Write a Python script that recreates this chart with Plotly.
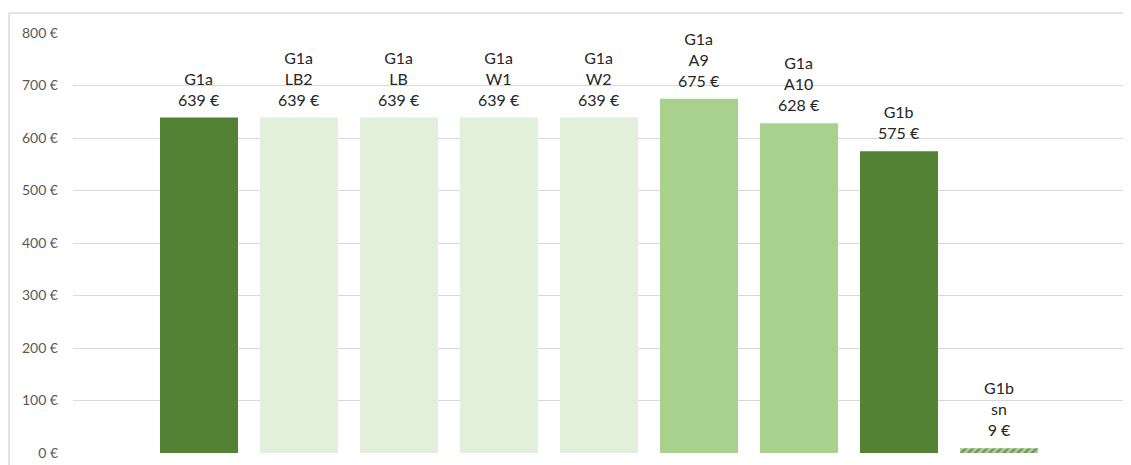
import plotly.graph_objects as go

categories = ["G1a", "G1a\nLB2", "G1a\nLB", "G1a\nW1", "G1a\nW2", "G1a\nA9", "G1a\nA10", "G1b", "G1b\nsn"]
values = [639, 639, 639, 639, 639, 675, 628, 575, 9]
colors = ["#548235", "#E2EFDA", "#E2EFDA", "#E2EFDA", "#E2EFDA", "#A9D18E", "#A9D18E", "#548235", "#A9D18E"]
patterns = ["", "", "", "", "", "", "", "", "/"]
y_ticks = [0, 100, 200, 300, 400, 500, 600, 700, 800]
y_tick_labels = [f"{v}\u00a0€" for v in y_ticks]

xpos = list(range(len(categories)))
labels = [c.replace("\n", "<br>") + f"<br>{v}\u00a0€" for c, v in zip(categories, values)]

# page body has an 8px margin; figure laid out accordingly
W, H = 1123, 457
L, R, T, B = 65, 7, 25, 12
plot_w = W - L - R
plot_h = H - T - B

fig = go.Figure()
fig.add_trace(go.Bar(
    x=xpos, y=values, width=0.78,
    marker=dict(color=colors, line=dict(width=0),
                pattern=dict(shape=patterns, fgcolor="#548235", bgcolor="#d6e6b8", size=5, solidity=0.45)),
    hoverinfo="skip",
))

annotations = [dict(x=x, y=v, text=t, showarrow=False, xref="x", yref="y",
                    yanchor="bottom", xanchor="center", yshift=7,
                    font=dict(family="Lato, Carlito, sans-serif", size=16, color="#262626"))
               for x, v, t in zip(xpos, values, labels)]

fig.update_layout(
    width=W, height=H,
    margin=dict(l=L, r=R, t=T, b=B, autoexpand=False),
    paper_bgcolor="white", plot_bgcolor="white",
    showlegend=False,
    xaxis=dict(range=[-1.26, 9.25], showticklabels=False, showgrid=False, zeroline=False,
               showline=False, ticks="", automargin=False),
    yaxis=dict(range=[0, 800], tickvals=y_ticks, ticktext=y_tick_labels,
               showgrid=True, gridcolor="#d9d9d9", gridwidth=1, zeroline=False,
               showline=False, ticks="", ticklabelstandoff=14, automargin=False,
               tickfont=dict(family="Lato, Carlito, sans-serif", size=14, color="#595959")),
    annotations=annotations,
    shapes=[dict(type="rect", xref="paper", yref="paper",
                 x0=(1 - L) / plot_w, x1=1.2, y0=-0.2, y1=1 + (T - 5) / plot_h,
                 line=dict(color="#c8c8c8", width=1), fillcolor="rgba(0,0,0,0)", layer="below")],
)

fig.write_html("out.html")
